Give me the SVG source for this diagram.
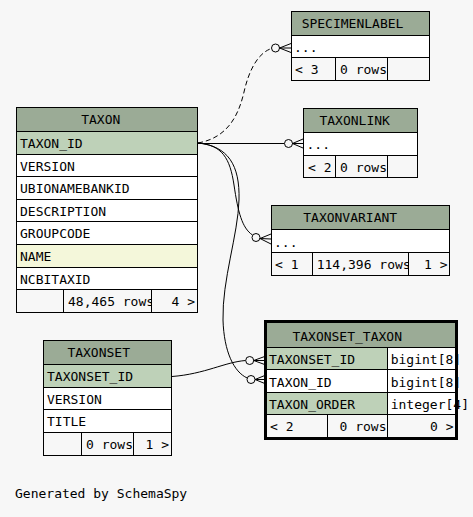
<svg xmlns="http://www.w3.org/2000/svg" width="473" height="517" viewBox="0 0 473 517">
<style>
text{font-family:"DejaVu Sans Mono","Liberation Mono",monospace;font-size:13px;fill:#000}
.hdr{fill:#9bab96;stroke:#000;stroke-width:1}
.key{fill:#bed1b8;stroke:#000;stroke-width:1}
.idx{fill:#f4f7da;stroke:#000;stroke-width:1}
.cell{fill:#fff;stroke:#000;stroke-width:1}
.foot{fill:#f7f7f7;stroke:#000;stroke-width:1}
.mid{text-anchor:middle}
.end{text-anchor:end}
.ln{fill:none;stroke:#000;stroke-width:1}
.dot{fill:#f7f7f7;stroke:#000;stroke-width:1}
</style>
<rect x="0" y="0" width="473" height="517" fill="#f7f7f7"/>

<g id="connectors">
<path class="ln" stroke-dasharray="5,3" d="M198,143 C226,138 238,118 244,92 C249,70 258,53 271.5,48.5"/>
<circle class="dot" cx="275.5" cy="48" r="4"/>
<path class="ln" d="M279.5,48 L291,43.5 M279.5,48 L291,48 M279.5,48 L291,52.5"/>

<path class="ln" d="M198,143.5 L284.5,143.5"/>
<circle class="dot" cx="288.5" cy="143.5" r="4"/>
<path class="ln" d="M292.5,143.5 L303,139 M292.5,143.5 L303,143.5 M292.5,143.5 L303,148"/>

<path class="ln" d="M198,143 C222,145 230,158 234,185 C238,212 242,228 252.5,235"/>
<circle class="dot" cx="256" cy="237.5" r="4"/>
<path class="ln" d="M260,238.5 L271,234 M260,238.5 L271,239 M260,238.5 L271,244"/>

<path class="ln" d="M198,143 C228,146 240,165 239,200 C238,235 222,280 223,320 C224,352 234,372 247.2,378"/>
<circle class="dot" cx="251" cy="379.5" r="4"/>
<path class="ln" d="M255,379.5 L266,375 M255,379.5 L266,379.5 M255,379.5 L266,384"/>

<path class="ln" d="M172,376.5 C205,374 225,362 245.7,360.5"/>
<circle class="dot" cx="249.7" cy="360.5" r="4"/>
<path class="ln" d="M253.7,360.5 L266,356 M253.7,360.5 L266,360.5 M253.7,360.5 L266,365"/>
</g>

<g id="TAXON">
<rect class="hdr" x="16.5" y="107.5" width="181" height="24"/>
<text class="mid" x="100.8" y="124">TAXON</text>
<rect class="key" x="16.5" y="131.5" width="181" height="23"/>
<text x="20" y="148">TAXON_ID</text>
<rect class="cell" x="16.5" y="154.5" width="181" height="22"/>
<text x="20" y="170.5">VERSION</text>
<rect class="cell" x="16.5" y="176.5" width="181" height="23"/>
<text x="20" y="193">UBIONAMEBANKID</text>
<rect class="cell" x="16.5" y="199.5" width="181" height="22"/>
<text x="20" y="215.5">DESCRIPTION</text>
<rect class="cell" x="16.5" y="221.5" width="181" height="23"/>
<text x="20" y="238">GROUPCODE</text>
<rect class="idx" x="16.5" y="244.5" width="181" height="23"/>
<text x="20" y="261">NAME</text>
<rect class="cell" x="16.5" y="267.5" width="181" height="22"/>
<text x="20" y="283.5">NCBITAXID</text>
<rect class="foot" x="16.5" y="289.5" width="47" height="23"/>
<rect class="foot" x="63.5" y="289.5" width="88" height="23"/>
<text x="68" y="306">48,465 rows</text>
<rect class="foot" x="151.5" y="289.5" width="46" height="23"/>
<text class="end" x="195" y="306">4 &gt;</text>
</g>

<g id="SPECIMENLABEL">
<rect class="hdr" x="291.5" y="11.5" width="138" height="24"/>
<text class="mid" x="352.5" y="28">SPECIMENLABEL</text>
<rect class="cell" x="291.5" y="35.5" width="138" height="22"/>
<text x="294" y="51.5">...</text>
<rect class="foot" x="291.5" y="57.5" width="44" height="23"/>
<text x="295" y="74">&lt; 3</text>
<rect class="foot" x="335.5" y="57.5" width="52" height="23"/>
<text x="340" y="74">0 rows</text>
<rect class="foot" x="387.5" y="57.5" width="42" height="23"/>
</g>

<g id="TAXONLINK">
<rect class="hdr" x="303.5" y="108.5" width="114" height="24"/>
<text class="mid" x="354.7" y="125">TAXONLINK</text>
<rect class="cell" x="303.5" y="132.5" width="114" height="23"/>
<text x="306.5" y="148.5">...</text>
<rect class="foot" x="303.5" y="155.5" width="32" height="22"/>
<text x="308" y="171.5">&lt; 2</text>
<rect class="foot" x="335.5" y="155.5" width="52" height="22"/>
<text x="340" y="171.5">0 rows</text>
<rect class="foot" x="387.5" y="155.5" width="30" height="22"/>
</g>

<g id="TAXONVARIANT">
<rect class="hdr" x="271.5" y="205.5" width="178" height="24"/>
<text class="mid" x="350.2" y="222">TAXONVARIANT</text>
<rect class="cell" x="271.5" y="229.5" width="178" height="23"/>
<text x="274" y="246.5">...</text>
<rect class="foot" x="271.5" y="252.5" width="41" height="23"/>
<text x="275" y="269">&lt; 1</text>
<rect class="foot" x="312.5" y="252.5" width="96" height="23"/>
<text x="316.7" y="269">114,396 rows</text>
<rect class="foot" x="408.5" y="252.5" width="41" height="23"/>
<text class="end" x="447.5" y="269">1 &gt;</text>
</g>

<g id="TAXONSET_TAXON">
<rect class="hdr" x="266.5" y="322.5" width="189" height="25"/>
<text class="mid" x="347.2" y="340.5">TAXONSET_TAXON</text>
<rect class="key" x="266.5" y="347.5" width="121" height="22"/>
<text x="269" y="364">TAXONSET_ID</text>
<rect class="cell" x="387.5" y="347.5" width="68" height="22"/>
<text x="390.7" y="364">bigint[8]</text>
<rect class="cell" x="266.5" y="369.5" width="121" height="23"/>
<text x="269" y="386.5">TAXON_ID</text>
<rect class="cell" x="387.5" y="369.5" width="68" height="23"/>
<text x="390.7" y="386.5">bigint[8]</text>
<rect class="key" x="266.5" y="392.5" width="121" height="22"/>
<text x="269" y="409">TAXON_ORDER</text>
<rect class="cell" x="387.5" y="392.5" width="68" height="22"/>
<rect class="foot" x="266.5" y="414.5" width="61" height="23"/>
<text x="270" y="431">&lt; 2</text>
<rect class="foot" x="327.5" y="414.5" width="60" height="23"/>
<text class="end" x="386.5" y="431">0 rows</text>
<rect class="foot" x="387.5" y="414.5" width="68" height="23"/>
<text class="end" x="453.5" y="431">0 &gt;</text>
<rect x="265" y="321" width="192" height="118" fill="none" stroke="#000" stroke-width="2"/>
<text x="390.7" y="409">integer[4]</text>
</g>

<g id="TAXONSET">
<rect class="hdr" x="43.5" y="340.5" width="128" height="24"/>
<text class="mid" x="98.7" y="357">TAXONSET</text>
<rect class="key" x="43.5" y="364.5" width="128" height="23"/>
<text x="47" y="381">TAXONSET_ID</text>
<rect class="cell" x="43.5" y="387.5" width="128" height="22"/>
<text x="47" y="403.5">VERSION</text>
<rect class="cell" x="43.5" y="409.5" width="128" height="23"/>
<text x="47" y="426">TITLE</text>
<rect class="foot" x="43.5" y="432.5" width="38" height="23"/>
<rect class="foot" x="81.5" y="432.5" width="52" height="23"/>
<text x="86" y="449">0 rows</text>
<rect class="foot" x="133.5" y="432.5" width="38" height="23"/>
<text class="end" x="169" y="449">1 &gt;</text>
</g>

<text x="15" y="497.5">Generated by SchemaSpy</text>
</svg>
